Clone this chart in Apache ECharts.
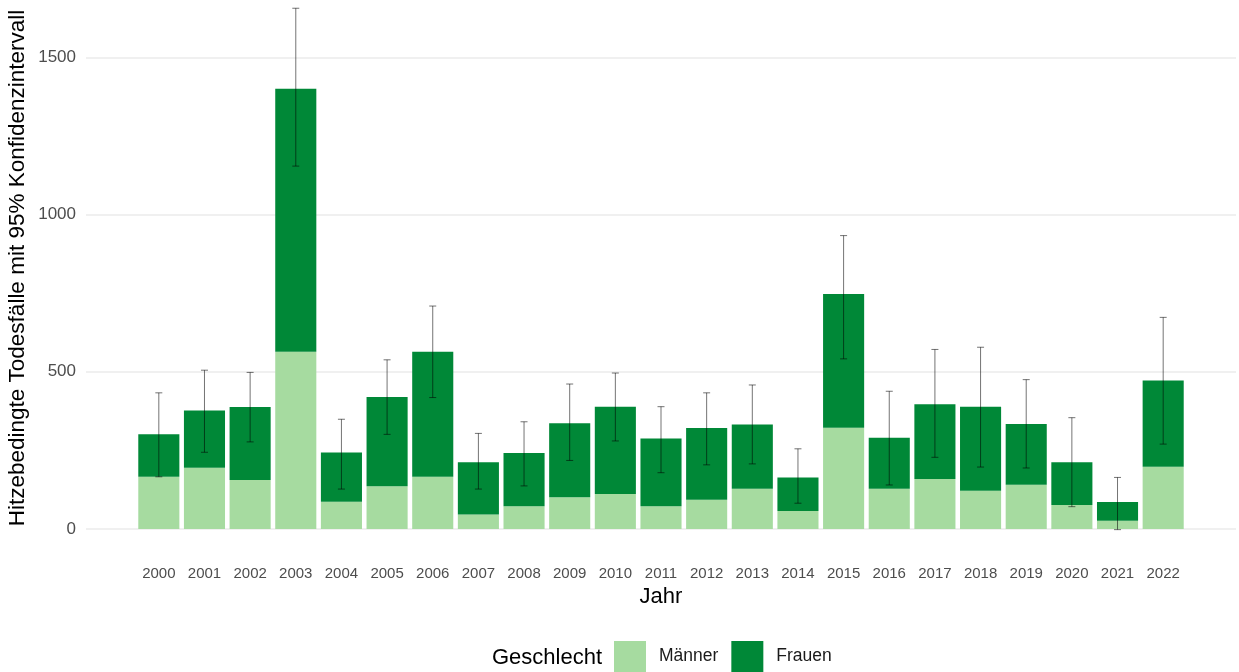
<!DOCTYPE html>
<html>
<head>
<meta charset="utf-8">
<script src="https://cdn.jsdelivr.net/npm/echarts@6/dist/echarts.min.js"></script>
<style>html,body{margin:0;padding:0;background:#fff}#c{width:1239px;height:672px}</style>
</head>
<body>
<div id="c"></div>
<script>
const years = ['2000','2001','2002','2003','2004','2005','2006','2007','2008','2009','2010','2011','2012','2013','2014','2015','2016','2017','2018','2019','2020','2021','2022'];
const men   = [166,195,156,564,87,136,166,46,72,101,111,72,93,128,57,322,128,159,122,141,76,26,198];
const women = [135,182,232,836,156,284,398,166,170,235,278,216,228,204,107,425,162,238,267,193,136,60,274];
const ciLow  = [166,244,277,1154,127,301,418,127,137,218,280,179,204,207,82,541,140,228,197,194,71,-2,270];
const ciHigh = [433,505,498,1656,349,538,709,304,341,461,496,389,433,458,255,933,438,571,578,475,354,164,673];
const yTicks = [0,500,1000,1500];

const FONT = '"Liberation Sans", Arial, sans-serif';
const chart = echarts.init(document.getElementById('c'), null, {renderer:'canvas'});
const errData = years.map((y,i)=>[i, ciLow[i], ciHigh[i]]);

chart.setOption({
  animation:false,
  backgroundColor:'#ffffff',
  textStyle:{fontFamily:FONT},
  grid:[
    {left:86, right:3, top:57.3, bottom:143},
    {left:136, right:53, top:57.3, bottom:143}
  ],
  xAxis:[
    {gridIndex:0, type:'value', show:false, min:0, max:1},
    {gridIndex:1, type:'category', data:years, boundaryGap:true,
     axisLine:{show:false}, axisTick:{show:false},
     axisLabel:{color:'#4d4d4d', fontSize:15, fontFamily:FONT, margin:37, interval:0},
     name:'Jahr', nameLocation:'middle', nameGap:55,
     nameTextStyle:{color:'#000', fontSize:22, fontFamily:FONT}}
  ],
  yAxis:[
    {gridIndex:0, type:'value', min:yTicks[0], max:yTicks[yTicks.length-1], interval:500,
     axisLine:{show:false}, axisTick:{show:false},
     axisLabel:{color:'#4d4d4d', fontSize:17, fontFamily:FONT, margin:10, formatter:function(v){return String(v);}},
     splitLine:{show:true, lineStyle:{color:'#ebebeb', width:1.6}}},
    {gridIndex:1, type:'value', min:yTicks[0], max:yTicks[yTicks.length-1], show:false,
     splitLine:{show:false}}
  ],
  legend:{
    data:['Männer','Frauen'], left:614, top:641, padding:0, itemWidth:32, itemHeight:31, itemGap:13,
    icon:'rect',
    textStyle:{color:'#1a1a1a', fontSize:17.5, fontFamily:FONT, padding:[0,0,0,8]}
  },
  graphic:[
    {type:'text', x:18, y:268, rotation:Math.PI/2,
     style:{text:'Hitzebedingte Todesfälle mit 95% Konfidenzintervall', fill:'#000', font:'22.5px "Liberation Sans", Arial, sans-serif', textAlign:'center', textVerticalAlign:'middle'}},
    {type:'text', x:492, y:658,
     style:{text:'Geschlecht', fill:'#000', font:'22px "Liberation Sans", Arial, sans-serif', textAlign:'left', textVerticalAlign:'middle'}}
  ],
  series:[
    {name:'Männer', type:'bar', stack:'a', xAxisIndex:1, yAxisIndex:1, data:men,
     barCategoryGap:'10%', itemStyle:{color:'#a6dba0'}},
    {name:'Frauen', type:'bar', stack:'a', xAxisIndex:1, yAxisIndex:1, data:women,
     barCategoryGap:'10%', itemStyle:{color:'#008837'}},
    {name:'CI', type:'custom', xAxisIndex:1, yAxisIndex:1, data:errData, clip:false, z:10,
     renderItem:function(params, api){
       const lo = api.coord([api.value(0), api.value(1)]);
       const hi = api.coord([api.value(0), api.value(2)]);
       const hw = 3.5;
       const st = {stroke:'rgba(0,0,0,0.55)', lineWidth:1};
       return {type:'group', children:[
         {type:'line', shape:{x1:lo[0], y1:lo[1], x2:hi[0], y2:hi[1]}, style:st},
         {type:'line', shape:{x1:lo[0]-hw, y1:lo[1], x2:lo[0]+hw, y2:lo[1]}, style:st},
         {type:'line', shape:{x1:hi[0]-hw, y1:hi[1], x2:hi[0]+hw, y2:hi[1]}, style:st}
       ]};
     }}
  ]
});
</script>
</body>
</html>
